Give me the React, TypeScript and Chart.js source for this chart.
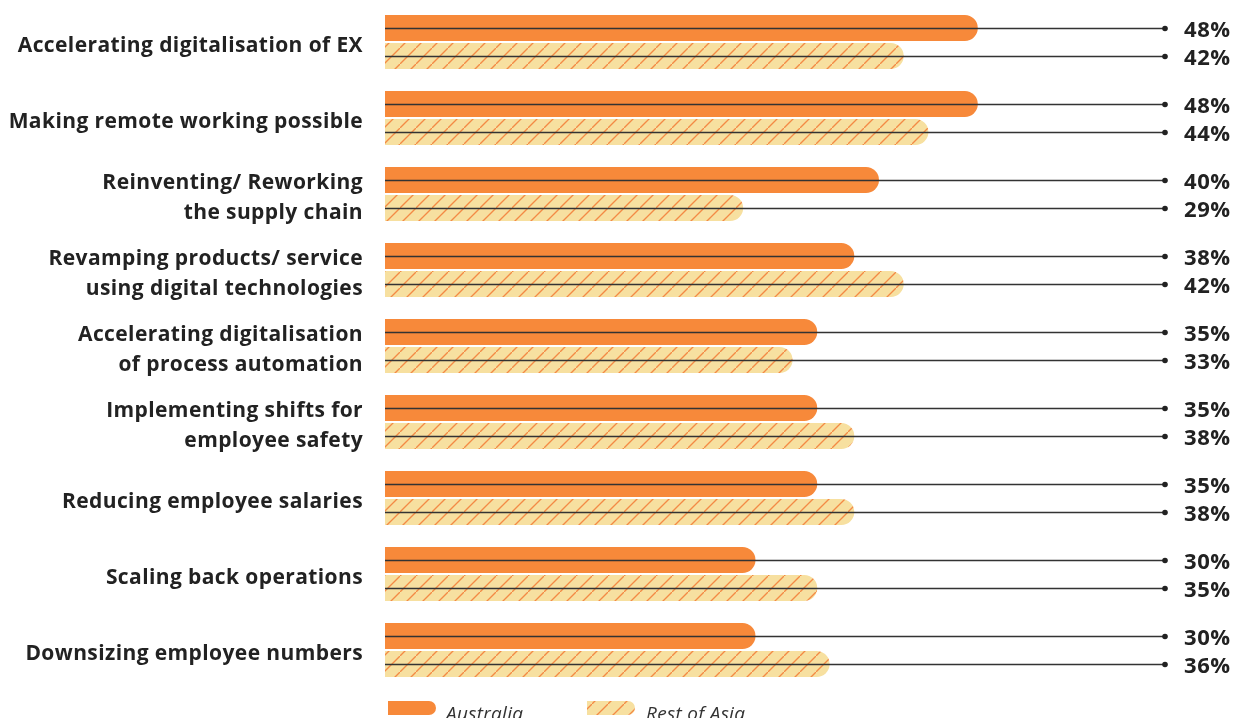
import React, { useEffect, useRef } from "react";
import { Chart, registerables } from "chart.js";

Chart.register(...registerables);

const categories: (string | string[])[] = [
  "Accelerating digitalisation of EX",
  "Making remote working possible",
  ["Reinventing/ Reworking", "the supply chain"],
  ["Revamping products/ service", "using digital technologies"],
  ["Accelerating digitalisation", "of process automation"],
  ["Implementing shifts for", "employee safety"],
  "Reducing employee salaries",
  "Scaling back operations",
  "Downsizing employee numbers",
];
const australia = [48, 48, 40, 38, 35, 35, 35, 30, 30];
const restOfAsia = [42, 44, 29, 42, 33, 38, 38, 35, 36];
const seriesNames = ["Australia", "Rest of Asia"];

const ORANGE = "#F7893A";
const YELLOW = "#F7E0A0";
const HATCH = "#F48A45";
const FONT = "'Open Sans', sans-serif";

function makePattern(): CanvasPattern | string {
  const c = document.createElement("canvas");
  c.width = 16;
  c.height = 16;
  const g = c.getContext("2d");
  if (!g) return YELLOW;
  g.fillStyle = YELLOW;
  g.fillRect(0, 0, 16, 16);
  g.strokeStyle = HATCH;
  g.lineWidth = 1.3;
  g.beginPath();
  g.moveTo(-2, 18);
  g.lineTo(18, -2);
  g.stroke();
  const p = g.createPattern(c, "repeat");
  return p || YELLOW;
}

const LINE_END = 1165;

const spacingPlugin = {
  id: "spacing",
  beforeDraw(chart: any) {
    (chart.ctx as any).letterSpacing = "0.4px";
  },
};

const overlayPlugin = {
  id: "overlay",
  afterDatasetsDraw(chart: any) {
    const ctx = chart.ctx;
    const left = chart.chartArea.left;
    ctx.save();
    chart.data.datasets.forEach((ds: any, di: number) => {
      const meta = chart.getDatasetMeta(di);
      meta.data.forEach((bar: any, i: number) => {
        const y = Math.round(bar.y) + 0.5;
        ctx.strokeStyle = "#333333";
        ctx.lineWidth = 1.5;
        ctx.beginPath();
        ctx.moveTo(left, y);
        ctx.lineTo(LINE_END, y);
        ctx.stroke();
        ctx.fillStyle = "#222222";
        ctx.beginPath();
        ctx.arc(LINE_END, y, 2.8, 0, Math.PI * 2);
        ctx.fill();
        (ctx as any).letterSpacing = "0.6px";
        ctx.font = `700 22px ${FONT}`;
        ctx.textAlign = "left";
        ctx.textBaseline = "middle";
        ctx.fillStyle = "#222222";
        ctx.fillText(`${ds.data[i]}%`, 1184, y + 2);
      });
    });
    // legend
    const drawSwatch = (x: number, fill: any) => {
      const y0 = 701, h = 14, w = 48, r = 7;
      ctx.fillStyle = fill;
      ctx.beginPath();
      ctx.moveTo(x, y0);
      ctx.lineTo(x + w - r, y0);
      ctx.arc(x + w - r, y0 + r, r, -Math.PI / 2, Math.PI / 2);
      ctx.lineTo(x, y0 + h);
      ctx.closePath();
      ctx.fill();
    };
    drawSwatch(388, ORANGE);
    drawSwatch(587, chart.data.datasets[1].backgroundColor);
    (ctx as any).letterSpacing = "0.3px";
    ctx.font = `italic 400 19px ${FONT}`;
    ctx.fillStyle = "#333333";
    ctx.textAlign = "left";
    ctx.textBaseline = "alphabetic";
    ctx.fillText(seriesNames[0], 446, 720);
    ctx.fillText(seriesNames[1], 646, 720);
    ctx.restore();
  },
};

export default function App() {
  const ref = useRef<HTMLCanvasElement | null>(null);
  useEffect(() => {
    if (!ref.current) return;
    const pattern = makePattern();
    const chart = new Chart(ref.current, {
      type: "bar",
      data: {
        labels: categories as any,
        datasets: [
          {
            label: seriesNames[0],
            data: australia,
            backgroundColor: ORANGE,
            borderRadius: 13,
            borderSkipped: "start",
            categoryPercentage: 0.7368,
            barPercentage: 0.9286,
          },
          {
            label: seriesNames[1],
            data: restOfAsia,
            backgroundColor: pattern as any,
            borderRadius: 13,
            borderSkipped: "start",
            categoryPercentage: 0.7368,
            barPercentage: 0.9286,
          },
        ],
      },
      options: {
        indexAxis: "y",
        animation: false,
        responsive: false,
        maintainAspectRatio: false,
        layout: { padding: { left: 0, right: 1242 - LINE_END, top: 4, bottom: 30 } },
        plugins: {
          legend: { display: false },
          tooltip: { enabled: false },
        },
        scales: {
          x: { display: false, min: 0, max: (LINE_END - 385) / 12.35 },
          y: {
            grid: { display: false, drawTicks: false },
            border: { display: false },
            afterFit: (s: any) => {
              s.width = 385;
              s.paddingTop = 0;
              s.paddingBottom = 0;
            },
            ticks: {
              padding: 22,
              labelOffset: 4,
              color: "#222222",
              font: { family: FONT, size: 21, weight: 700, lineHeight: 1.43 },
            },
          },
        },
      },
      plugins: [spacingPlugin, overlayPlugin],
    });
    return () => chart.destroy();
  }, []);
  return (
    <div style={{ position: "fixed", left: 0, top: 0, width: 1242, height: 718, background: "#fff" }}>
      <canvas ref={ref} width={1242} height={718} style={{ width: 1242, height: 718 }} />
    </div>
  );
}
